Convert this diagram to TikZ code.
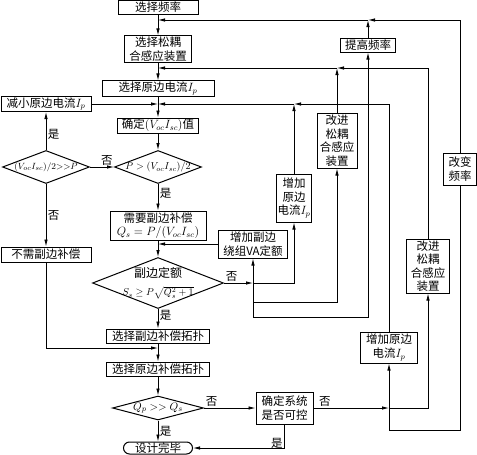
\documentclass[tikz,border=0pt]{standalone}
\usepackage{fontspec}
\setmainfont{Noto Sans CJK SC}
\usetikzlibrary{shapes.geometric,arrows.meta}
\begin{document}
\begin{tikzpicture}[x=1pt,y=-1pt,line width=0.8pt,>={Latex[length=7pt,width=3.5pt]},
  every node/.style={font=\fontsize{11.5}{13.5}\selectfont},
  box/.style={draw,line width=1pt,inner sep=1pt,align=center},
  dia/.style={draw,diamond,aspect=2.6,line width=1pt,inner sep=-5pt,align=center,font=\fontsize{10}{12}\selectfont},
  lbl/.style={inner sep=1.5pt}]
\useasboundingbox (0,0) rectangle (477,455);
% main column
\node[box,minimum width=80pt,minimum height=14pt] (freq) at (158,7.5) {选择频率};
\node[box,minimum width=67pt,minimum height=24pt] (coup) at (158,49) {选择松耦\\合感应装置};
\node[box,minimum width=112pt,minimum height=13pt] (curr) at (158,88.5) {选择原边电流$I_p$};
\node[box,minimum width=81pt,minimum height=15pt] (vi) at (158,125.5) {确定$(V_{oc}I_{sc})$值};
\node[dia,minimum width=87pt,minimum height=33pt] (rd) at (158,167) {$P>(V_{oc}I_{sc})/2$};
\node[box,minimum width=96pt,minimum height=29pt] (comp) at (158,225.5) {需要副边补偿\\$Q_s=P/(V_{oc}I_{sc})$};
\node[dia,minimum width=131pt,minimum height=51pt] (rate) at (158,283) {{\large 副边定额}\\[6pt]$S_s\geq P\sqrt{Q_s^2+1}$};
\node[box,minimum width=103pt,minimum height=14pt] (stop) at (158,336) {选择副边补偿拓扑};
\node[box,minimum width=103pt,minimum height=14pt] (ptop) at (158,369) {选择原边补偿拓扑};
\node[dia,aspect=3.8,minimum width=91pt,minimum height=24pt,font=\fontsize{11}{13}\selectfont] (qd) at (158,408) {$Q_p>>Q_s$};
\node[box,rounded corners=6pt,minimum width=69pt,minimum height=12pt,inner sep=0.2pt] (done) at (158,448) {设计完毕};
% left column
\node[box,minimum width=90pt,minimum height=15pt] (reduce) at (46,104) {减小原边电流$I_p$};
\node[dia,minimum width=87pt,minimum height=33pt,font=\fontsize{9.5}{12}\selectfont] (ld) at (46,167) {$(V_{oc}I_{sc})/2{>>}P$};
\node[box,minimum width=90pt,minimum height=15pt] (nocomp) at (46,254.5) {不需副边补偿};
% right side
\node[box,minimum width=69pt,minimum height=28pt] (va) at (253,244) {增加副边\\绕组VA定额};
\node[box,minimum width=34pt,minimum height=48pt] (ip1) at (294,198) {增加\\原边\\电流$I_p$};
\node[box,minimum width=40pt,minimum height=55pt] (ic1) at (337,140.5) {改进\\松耦\\合感应\\装置};
\node[box,minimum width=55pt,minimum height=14pt] (rf) at (368,45) {提高频率};
\node[box,minimum width=43pt,minimum height=54pt] (ic2) at (428,266) {改进\\松耦\\合感应\\装置};
\node[box,minimum width=57pt,minimum height=31pt] (ip2) at (389,347.5) {增加原边\\电流$I_p$};
\node[box,minimum width=33pt,minimum height=32pt] (cf) at (460,169) {改变\\频率};
\node[box,minimum width=57pt,minimum height=32pt] (ctrl) at (284.5,408) {确定系统\\是否可控};
% junctions
\coordinate (m1) at (158,20);
\coordinate (m2) at (158,68);
\coordinate (m3) at (158,104);
\coordinate (m4) at (158,244);
\coordinate (m5) at (158,348);
\coordinate (j1) at (rf.north |- m1);
\coordinate (j2) at (ic1.north |- m2);
\coordinate (j3) at (ip1.north |- m3);
\coordinate (k1) at (va.south |- rate.east);
\coordinate (k2) at (va.south |- 0,302);
\coordinate (k3) at (va.south |- 0,317);
\coordinate (r1) at (ip2.south |- ctrl.east);
\coordinate (r2) at (ip2.south |- 0,430);
% main line
\foreach \a/\b in {freq/coup,coup/curr,curr/vi,vi/rd,comp/rate,stop/ptop,ptop/qd}
  \draw[->] (\a) -- (\b);
\draw[->] (rd) -- node[lbl,right,pos=0.35]{是} (comp);
\draw[->] (rate) -- node[lbl,right,pos=0.35]{是} (stop);
\draw[->] (qd) -- node[lbl,right]{是} (done);
% left branch
\draw[->] (ld) -- node[lbl,right,pos=0.4]{是} (reduce);
\draw[->] (ld) -- node[lbl,right]{否} (nocomp);
\draw[->] (ld) -- node[lbl,above,pos=0.7]{否} (rd);
\draw[->] (reduce) -- (m3);
\draw[->] (nocomp) |- (m5);
% feedback to the main line
\draw[->] (cf) |- (j1);
\draw[->] (rf) -- (j1);
\draw[->] (j1) -- (m1);
\draw[->] (ic2) |- (j2);
\draw[->] (ic1) -- (j2);
\draw[->] (j2) -- (m2);
\draw[->] (ip2) |- (j3);
\draw[->] (ip1) -- (j3);
\draw[->] (j3) -- (m3);
\draw[->] (va) -- (m4);
% rating not met
\draw[->] (rate) -- node[lbl,above right,pos=0]{否} (k1);
\draw[->] (k3) -- (va);
\draw[->] (k1) -| (ip1);
\draw[->] (k2) -| (ic1);
\draw[->] (k3) -| (rf);
% bottom
\draw[->] (qd) -- node[lbl,above right,pos=0]{否} (ctrl);
\draw[->] (ctrl) -- node[lbl,above right,pos=0.05]{否} (r1);
\draw[->] (r1) -- (ip2);
\draw[->] (r1) -| (ic2);
\draw (r1) -- (r2) -| (cf);
\draw[->] (ctrl) |- node[lbl,left,pos=0.4]{是} (done);
\end{tikzpicture}
\end{document}
